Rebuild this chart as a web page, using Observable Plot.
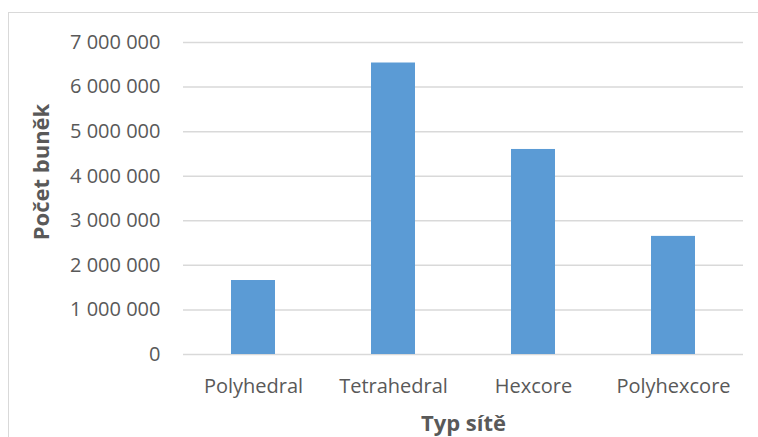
<!DOCTYPE html>
<html>
<head>
<meta charset="utf-8">
<script src="https://cdn.jsdelivr.net/npm/d3@7"></script>
<script src="https://cdn.jsdelivr.net/npm/@observablehq/plot@0.6"></script>
<style>
  html, body { margin: 0; padding: 0; background: #fff; overflow: hidden; }
  #wrap { position: relative; width: 758px; height: 437px; }
  #border { position: absolute; left: 8px; top: 12px; width: 760px; height: 440px;
            border-left: 1.5px solid #d9d9d9; border-top: 1.5px solid #d9d9d9; pointer-events: none; }
  #chart { position: absolute; left: 0; top: 0; }
</style>
</head>
<body>
<div id="wrap"><div id="border"></div><div id="chart"></div></div>
<script>
const categories = ["Polyhedral", "Tetrahedral", "Hexcore", "Polyhexcore"];
const values = [1660000, 6540000, 4600000, 2650000];
const yTicks = [0, 1000000, 2000000, 3000000, 4000000, 5000000, 6000000, 7000000];
const yTitle = "Počet buněk";
const xTitle = "Typ sítě";

const data = categories.map((c, i) => ({category: c, value: values[i]}));
const fmt = d => d3.format(",")(d).replace(/,/g, " ");

const chart = Plot.plot({
  width: 758,
  height: 437,
  marginLeft: 183,
  marginRight: 15,
  marginTop: 42,
  marginBottom: 83,
  style: {fontFamily: "'Open Sans', sans-serif", fontSize: "20px", color: "#595959", background: "transparent", overflow: "visible"},
  x: {domain: categories, paddingInner: 0.686, paddingOuter: 0.343, label: null},
  y: {domain: [0, 7000000], label: null},
  marks: [
    Plot.ruleY(yTicks, {stroke: "#d9d9d9", strokeWidth: 1.5}),
    Plot.barY(data, {x: "category", y: "value", fill: "#5B9BD5"}),
    Plot.axisX({tickSize: 0, tickPadding: 24, fontSize: 20, label: null}),
    Plot.axisY({ticks: yTicks, tickSize: 0, tickPadding: 23, tickFormat: fmt, fontSize: 20, label: null}),
    Plot.text([yTitle], {text: d => d, frameAnchor: "left", textAnchor: "middle", lineAnchor: "middle", dx: -142, dy: -26.5, rotate: -90, fontWeight: "bold", fontSize: 22, fill: "#595959"}),
    Plot.text([xTitle], {text: d => d, frameAnchor: "bottom", textAnchor: "middle", lineAnchor: "middle", dy: 69, fontWeight: "bold", fontSize: 22, fill: "#595959"})
  ]
});
document.getElementById("chart").appendChild(chart);
</script>
</body>
</html>
